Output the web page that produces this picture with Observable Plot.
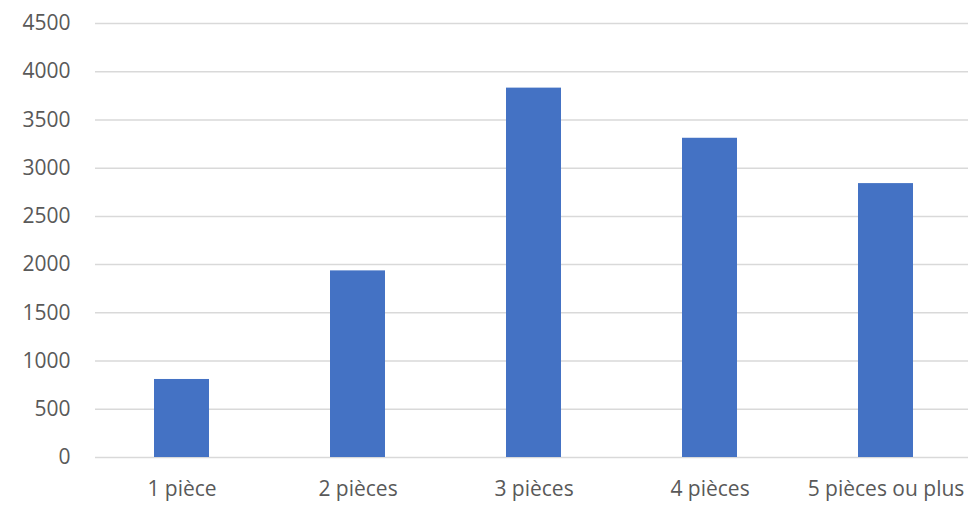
<!DOCTYPE html>
<html>
<head>
<meta charset="utf-8">
<script src="https://cdn.jsdelivr.net/npm/d3@7"></script>
<script src="https://cdn.jsdelivr.net/npm/@observablehq/plot@0.6"></script>
<style>
  html, body { margin: 0; padding: 0; background: #fff; }
  #chart { width: 969px; height: 505px; }
</style>
</head>
<body>
<div id="chart"></div>
<script>
const categories = ["1 pièce", "2 pièces", "3 pièces", "4 pièces", "5 pièces ou plus"];
const values = [809, 1935, 3830, 3310, 2840];
const yTicks = [0, 500, 1000, 1500, 2000, 2500, 3000, 3500, 4000, 4500];

const data = categories.map((c, i) => ({category: c, value: values[i]}));

const chart = Plot.plot({
  width: 969,
  height: 505,
  marginLeft: 95,
  marginRight: 1,
  marginTop: 23,
  marginBottom: 48,
  style: {fontFamily: "'Open Sans', sans-serif", fontSize: "21px", color: "#595959", background: "#fff", overflow: "hidden"},
  x: {domain: categories, range: [93, 974], paddingInner: 0.686, paddingOuter: 0.343, label: null},
  y: {domain: [0, 4500], ticks: yTicks, label: null},
  marks: [
    Plot.gridY(yTicks, {stroke: "#d9d9d9", strokeOpacity: 1, strokeWidth: 1.5}),
    Plot.barY(data, {x: "category", y: "value", fill: "#4472C4"}),
    Plot.axisY(yTicks, {tickSize: 0, tickPadding: 25, fontSize: 21, fill: "#595959", tickFormat: d3.format("d")}),
    Plot.axisX({tickSize: 0, tickPadding: 24, fontSize: 21, fill: "#595959"})
  ]
});
document.getElementById("chart").appendChild(chart);
</script>
</body>
</html>
